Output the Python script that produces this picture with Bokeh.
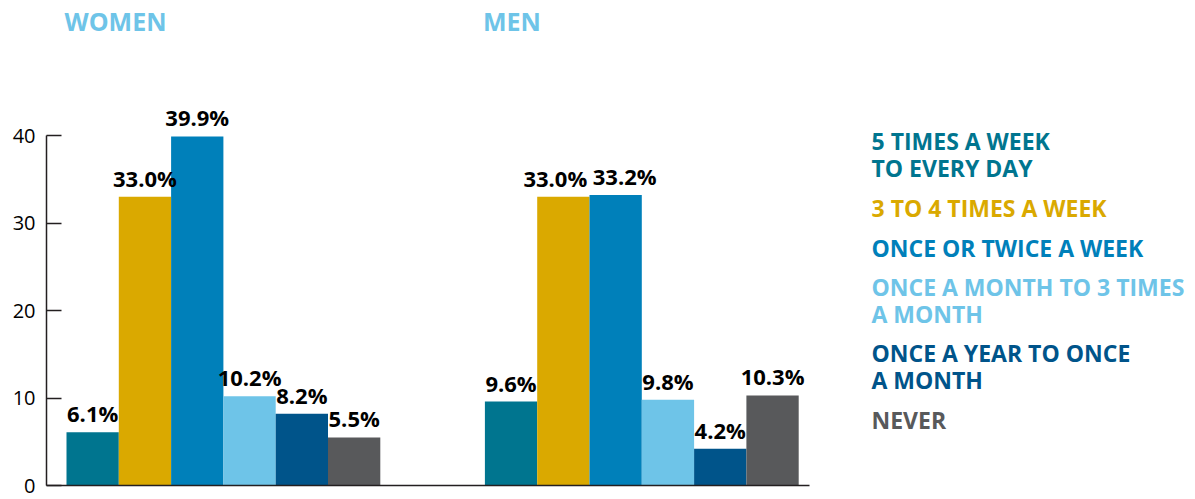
from bokeh.plotting import figure
from bokeh.models import ColumnDataSource, Range1d, FixedTicker
from bokeh.core.properties import value
from bokeh.embed import file_html
from bokeh.resources import INLINE

# ---- data ----
groups = ["WOMEN", "MEN"]
categories = [
    "5 TIMES A WEEK\nTO EVERY DAY",
    "3 TO 4 TIMES A WEEK",
    "ONCE OR TWICE A WEEK",
    "ONCE A MONTH TO 3 TIMES\nA MONTH",
    "ONCE A YEAR TO ONCE\nA MONTH",
    "NEVER",
]
women = [6.1, 33.0, 39.9, 10.2, 8.2, 5.5]
men = [9.6, 33.0, 33.2, 9.8, 4.2, 10.3]
y_ticks = [0, 10, 20, 30, 40]

# ---- style ----
colors = ["#00758F", "#DAA900", "#0080BA", "#6EC4E8", "#00548A", "#58595B"]
title_color = "#6EC4E8"
FONT = value("Open Sans")
label_nudge = [[0, 0, 0, 0, 0, 0], [0, -8, 9, 0, 0, 0]]   # px shifts of value labels

W, H = 1195, 499
PX_X = 52.3     # pixels per category unit
PX_Y = 8.75     # pixels per percentage point
FRAME_LEFT = 46
FRAME_H = 485
X0 = -20 / PX_X
X1 = X0 + (W - FRAME_LEFT) / PX_X
Y1 = FRAME_H / PX_Y

def xdata(px):
    return X0 + (px - FRAME_LEFT) / PX_X

def ydata(py):
    return (FRAME_H - py) / PX_Y

n = len(categories)
group_gap = 2
xs, tops, cols, labels, offs = [], [], [], [], []
for g, vals in enumerate([women, men]):
    for i, v in enumerate(vals):
        xs.append(g * (n + group_gap) + i + 0.5)
        tops.append(v)
        cols.append(colors[i])
        labels.append(f"{v:.1f}%")
        offs.append(label_nudge[g][i])

src = ColumnDataSource(dict(x=xs, top=tops, color=cols, label=labels, off=offs))

p = figure(width=W, height=H, output_backend="svg", toolbar_location=None,
           x_range=Range1d(X0, X1), y_range=Range1d(0, Y1),
           min_border_left=FRAME_LEFT, min_border_right=0, min_border_top=0,
           min_border_bottom=H - FRAME_H, background_fill_color="white",
           border_fill_color="white")
p.outline_line_color = None
p.grid.visible = False

p.vbar(x="x", top="top", bottom=0, width=1.0, fill_color="color",
       line_color=None, source=src)
p.text(x="x", y="top", text="label", source=src, text_font=FONT,
       text_font_style="bold", text_font_size="22px", text_color="black",
       text_align="center", text_baseline="bottom", y_offset=-4, x_offset="off")

# group titles
tsrc = ColumnDataSource(dict(x=[g * (n + group_gap) for g in range(len(groups))],
                             y=[ydata(20)] * len(groups), t=groups))
p.text(x="x", y="y", text="t", source=tsrc, text_font=FONT,
       text_font_style="bold", text_font_size="25px", text_color=title_color,
       text_align="left", text_baseline="middle", x_offset=-2)

# legend (text coloured by series)
line_px, gap_px = 26, 14
top_line = 141
ly = []
for c in categories:
    nl = c.count("\n") + 1
    ly.append(ydata(top_line + (nl - 1) * line_px / 2))
    top_line += nl * line_px + gap_px
lx = [xdata(871) for _ in categories]
lsrc = ColumnDataSource(dict(x=lx, y=ly, t=categories, color=colors))
p.text(x="x", y="y", text="t", source=lsrc, text_font=FONT,
       text_font_style="bold", text_font_size="23px", text_color="color",
       text_align="left", text_baseline="middle", text_line_height=0.84)

# axes
p.yaxis.ticker = FixedTicker(ticks=y_ticks)
p.yaxis.bounds = (0, 40)
p.yaxis.axis_line_width = 1.5
p.yaxis.axis_line_color = "#231F20"
p.yaxis.major_tick_line_color = "#231F20"
p.yaxis.major_tick_line_width = 1.5
p.yaxis.major_tick_in = 15
p.yaxis.major_tick_out = 0
p.yaxis.minor_tick_line_color = None
p.yaxis.major_label_text_font = "Open Sans"
p.yaxis.major_label_text_font_size = "20px"
p.yaxis.major_label_text_color = "black"
p.yaxis.major_label_standoff = 11

p.xaxis.ticker = FixedTicker(ticks=[])
p.xaxis.bounds = (X0, xdata(809))
p.xaxis.axis_line_width = 1.5
p.xaxis.axis_line_color = "#231F20"
p.xaxis.major_tick_out = 0
p.xaxis.major_tick_in = 0
p.xaxis.minor_tick_line_color = None
p.xaxis.major_label_text_font_size = "0px"
p.xaxis.major_label_standoff = 0

open("out.html", "w").write(file_html(p, INLINE))
